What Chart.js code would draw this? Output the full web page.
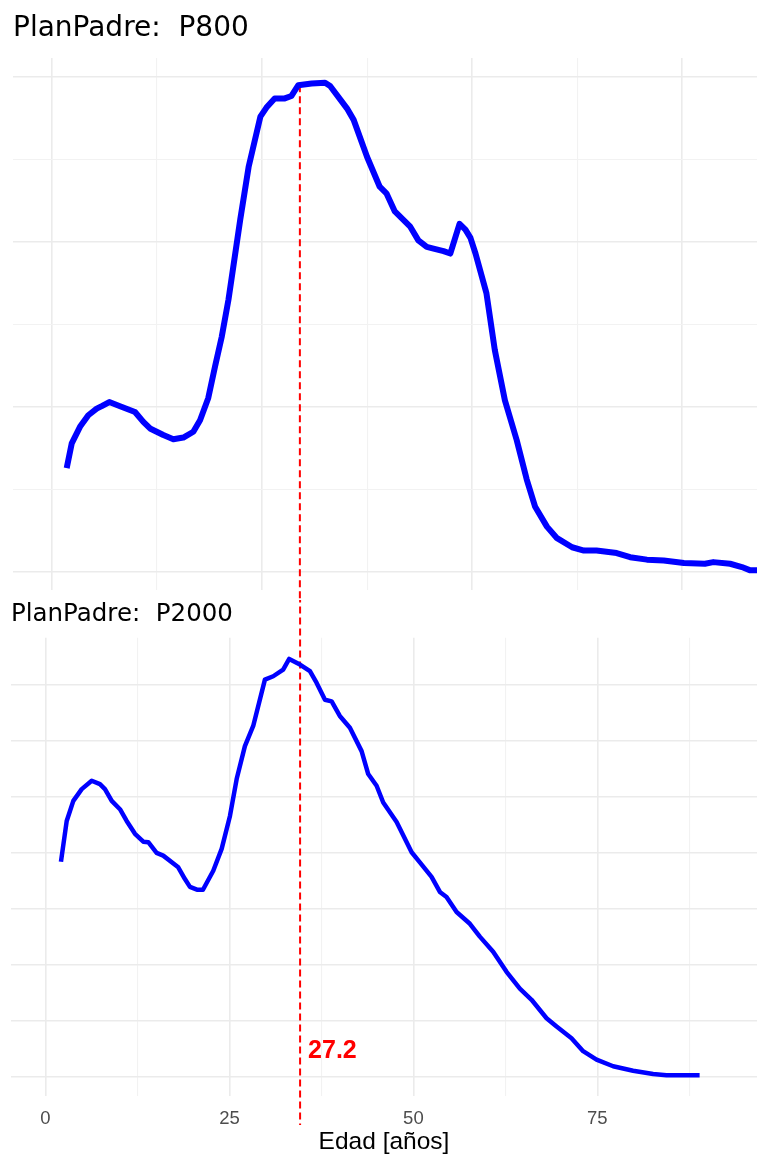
<!DOCTYPE html>
<html>
<head>
<meta charset="utf-8">
<script src="https://cdn.jsdelivr.net/npm/chart.js@4.4.1/dist/chart.umd.min.js"></script>
<style>
  html, body { margin: 0; padding: 0; background: #fff; }
  canvas { display: block; }
</style>
</head>
<body>
<canvas id="topChart" width="757" height="600"></canvas>
<canvas id="bottomChart" width="757" height="558"></canvas>
<script>
// Panel P800 (age in years, density in arbitrary grid units)
const ageP800 = [1.75, 2.35, 3.33, 4.32, 5.32, 5.92, 6.82, 8.1, 9.88, 10.87, 11.67, 13.25, 14.44, 15.63, 16.82, 17.62, 18.6, 19.4, 20.2, 21.0,
  22.4, 23.4, 24.8, 25.6, 26.5, 27.7, 28.5, 29.3, 30.9, 32.5, 33.1, 35.1, 35.9, 37.5, 39.0, 39.8, 40.8, 42.6, 43.6, 44.6,
  45.4, 46.6, 47.4, 48.5, 49.2, 49.8, 50.4, 51.7, 52.7, 53.9, 55.3, 56.5, 57.5, 58.9, 60.1, 61.9, 63.3, 64.8, 67.2, 68.8,
  70.8, 72.8, 75.2, 77.7, 78.7, 80.7, 82.1, 83.1, 83.9];
const densP800 = [1.26, 1.56, 1.76, 1.90, 1.98, 2.01, 2.06, 2.01, 1.94, 1.82, 1.74, 1.66, 1.61, 1.63, 1.70, 1.84, 2.11, 2.49, 2.85, 3.30,
  4.27, 4.91, 5.52, 5.64, 5.74, 5.74, 5.77, 5.90, 5.92, 5.93, 5.89, 5.62, 5.48, 5.03, 4.67, 4.59, 4.37, 4.19, 4.02, 3.94,
  3.92, 3.89, 3.86, 4.22, 4.15, 4.05, 3.86, 3.38, 2.69, 2.08, 1.60, 1.12, 0.79, 0.55, 0.41, 0.30, 0.26, 0.26, 0.23, 0.18,
  0.15, 0.14, 0.11, 0.10, 0.12, 0.10, 0.06, 0.02, 0.02];

// Panel P2000
const ageP2000 = [2.1, 2.88, 3.78, 4.92, 6.28, 7.4, 8.08, 9.0, 10.12, 11.03, 12.16, 13.29, 13.97, 15.1, 16.0, 18.04, 18.95, 19.63, 20.58, 21.4,
  22.8, 23.94, 25.07, 25.98, 27.1, 28.23, 29.82, 30.95, 32.3, 33.12, 34.58, 35.94, 36.85, 37.98, 38.89, 40.0, 41.37, 42.96, 43.86, 45.0,
  45.9, 47.72, 49.76, 50.88, 52.47, 53.6, 54.5, 55.87, 57.68, 59.03, 60.84, 62.66, 64.47, 66.06, 68.1, 69.46, 71.49, 73.07, 74.89, 77.15,
  79.86, 82.58, 84.4, 88.9];
const densP2000 = [3.84, 4.57, 4.93, 5.14, 5.29, 5.23, 5.14, 4.93, 4.78, 4.57, 4.34, 4.2, 4.19, 4.0, 3.95, 3.74, 3.53, 3.39, 3.34, 3.34,
  3.68, 4.07, 4.66, 5.32, 5.91, 6.27, 7.1, 7.16, 7.28, 7.47, 7.37, 7.25, 7.04, 6.74, 6.71, 6.45, 6.24, 5.82, 5.41, 5.2,
  4.9, 4.55, 4.01, 3.83, 3.57, 3.3, 3.21, 2.94, 2.73, 2.5, 2.23, 1.87, 1.57, 1.37, 1.04, 0.89, 0.68, 0.45, 0.30, 0.18,
  0.10, 0.04, 0.02, 0.02];

const titles = ["PlanPadre:  P800", "PlanPadre:  P2000"];
const xTicks = [0, 12.5, 25, 37.5, 50, 62.5, 75, 87.5];
const yTicksTop = [0, 1, 2, 3, 4, 5, 6];
const yTicksBottom = [0, 1, 2, 3, 4, 5, 6, 7];
const xTitle = "Edad [años]";

// dashed red marker (position in each panel's scale)
const markTop = { x: 29.5, from: 5.9, to: -0.5 };
const markBottom = { x: 34.6, from: 8.8, to: -0.87 };
const markLabel = "27.2";
const markLabelY = 0.33;

Chart.defaults.font.family = "'Liberation Sans', Arial, sans-serif";

function toPoints(xs, ys) {
  return xs.map((x, i) => ({ x, y: ys[i] }));
}

function grid(majorTest) {
  return {
    drawTicks: false,
    color: (c) => (c.tick && majorTest(c.tick.value) ? "#ebebeb" : "#f2f2f2"),
    lineWidth: (c) => (c.tick && majorTest(c.tick.value) ? 1.6 : 1.1),
  };
}

function setTicks(values) {
  return (scale) => {
    scale.ticks = values.map((v) => ({ value: v }));
  };
}

function markDataset(mark) {
  return {
    data: [{ x: mark.x, y: mark.from }, { x: mark.x, y: mark.to }],
    borderColor: "#ff0000",
    borderWidth: 2,
    borderDash: [7, 4],
    pointRadius: 0,
    clip: false,
  };
}

const labelPlugin = {
  id: "markLabel",
  afterDatasetsDraw(chart) {
    const { ctx, scales } = chart;
    const x = scales.x.getPixelForValue(markBottom.x) + 8;
    const y = scales.y.getPixelForValue(markLabelY);
    ctx.save();
    ctx.fillStyle = "#ff0000";
    ctx.font = "bold 25px 'Liberation Sans', Arial, sans-serif";
    ctx.textBaseline = "alphabetic";
    ctx.fillText(markLabel, x, y);
    ctx.restore();
  },
};

const commonOptions = {
  responsive: false,
  animation: false,
  devicePixelRatio: 1,
  events: [],
};

new Chart(document.getElementById("topChart"), {
  type: "line",
  data: {
    datasets: [
      {
        data: toPoints(ageP800, densP800),
        borderColor: "#0000ff",
        borderWidth: 6,
        borderJoinStyle: "round",
        pointRadius: 0,
        tension: 0,
      },
      markDataset(markTop),
    ],
  },
  options: {
    ...commonOptions,
    layout: { padding: { left: 13, right: 0, top: 0, bottom: 10 } },
    plugins: {
      legend: { display: false },
      tooltip: { enabled: false },
      title: {
        display: true,
        text: titles[0],
        align: "start",
        color: "#000",
        font: { family: "'DejaVu Sans', sans-serif", size: 28, weight: "normal", lineHeight: 1.2 },
        padding: { top: 12.2, bottom: 12.2 },
      },
    },
    scales: {
      x: {
        type: "linear",
        min: -4.64,
        max: 83.9,
        afterBuildTicks: setTicks(xTicks),
        ticks: { display: false },
        border: { display: false },
        grid: grid((v) => v % 25 === 0),
      },
      y: {
        min: -0.218,
        max: 6.23,
        afterBuildTicks: setTicks(yTicksTop),
        ticks: { display: false },
        border: { display: false },
        grid: grid((v) => v % 2 === 0),
      },
    },
  },
});

new Chart(document.getElementById("bottomChart"), {
  type: "line",
  data: {
    datasets: [
      {
        data: toPoints(ageP2000, densP2000),
        borderColor: "#0000ff",
        borderWidth: 4.5,
        borderJoinStyle: "round",
        pointRadius: 0,
        tension: 0,
      },
      markDataset(markBottom),
    ],
  },
  options: {
    ...commonOptions,
    layout: { padding: { left: 11, right: 0, top: 0, bottom: 0 } },
    plugins: {
      legend: { display: false },
      tooltip: { enabled: false },
      title: {
        display: true,
        text: titles[1],
        align: "start",
        color: "#000",
        font: { family: "'DejaVu Sans', sans-serif", size: 24.5, weight: "normal", lineHeight: 1.2 },
        padding: { top: 0, bottom: 8.3 },
      },
    },
    scales: {
      x: {
        type: "linear",
        min: -4.69,
        max: 96.7,
        afterBuildTicks: setTicks(xTicks),
        ticks: {
          color: "#4d4d4d",
          font: { size: 18.5 },
          padding: 12,
          maxRotation: 0,
          callback: (v) => (v % 25 === 0 ? String(v) : ""),
        },
        border: { display: false },
        grid: grid((v) => v % 25 === 0),
        title: {
          display: true,
          text: xTitle,
          color: "#000",
          font: { size: 24.5, lineHeight: 0.01 },
          padding: { top: 0, bottom: 15.9 },
        },
      },
      y: {
        min: -0.346,
        max: 7.85,
        afterBuildTicks: setTicks(yTicksBottom),
        ticks: { display: false },
        border: { display: false },
        grid: grid(() => true),
      },
    },
  },
  plugins: [labelPlugin],
});
</script>
</body>
</html>
